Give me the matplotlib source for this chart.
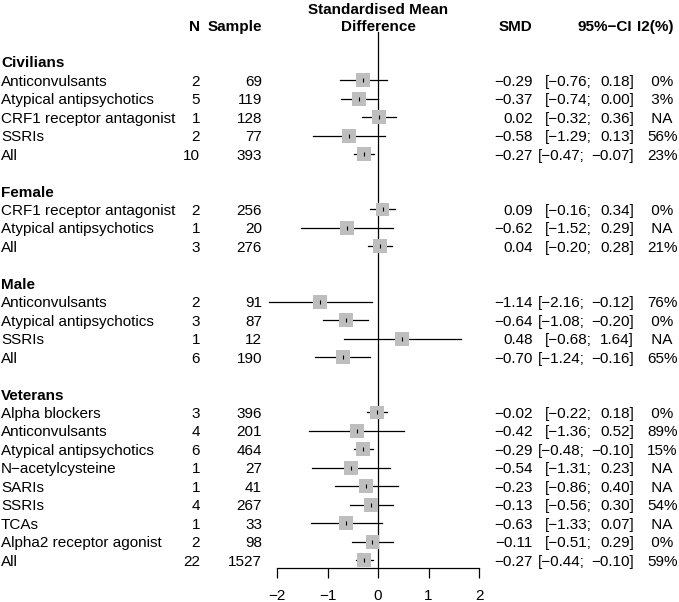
import matplotlib
matplotlib.use("Agg")
import matplotlib.pyplot as plt

# dados do forest plot (por grupo)
groups = ["Civilians", "Female", "Male", "Veterans"]

civ_labels = ["Anticonvulsants", "Atypical antipsychotics", "CRF1 receptor antagonist", "SSRIs", "All"]
civ_n = [2, 5, 1, 2, 10]
civ_sample = [69, 119, 128, 77, 393]
civ_smd = [-0.29, -0.37, 0.02, -0.58, -0.27]
civ_lo = [-0.76, -0.74, -0.32, -1.29, -0.47]
civ_hi = [0.18, 0.00, 0.36, 0.13, -0.07]
civ_i2 = ["0%", "3%", "NA", "56%", "23%"]

fem_labels = ["CRF1 receptor antagonist", "Atypical antipsychotics", "All"]
fem_n = [2, 1, 3]
fem_sample = [256, 20, 276]
fem_smd = [0.09, -0.62, 0.04]
fem_lo = [-0.16, -1.52, -0.20]
fem_hi = [0.34, 0.29, 0.28]
fem_i2 = ["0%", "NA", "21%"]

male_labels = ["Anticonvulsants", "Atypical antipsychotics", "SSRIs", "All"]
male_n = [2, 3, 1, 6]
male_sample = [91, 87, 12, 190]
male_smd = [-1.14, -0.64, 0.48, -0.70]
male_lo = [-2.16, -1.08, -0.68, -1.24]
male_hi = [-0.12, -0.20, 1.64, -0.16]
male_i2 = ["76%", "0%", "NA", "65%"]

vet_labels = ["Alpha blockers", "Anticonvulsants", "Atypical antipsychotics", "N\u2212acetylcysteine",
              "SARIs", "SSRIs", "TCAs", "Alpha2 receptor agonist", "All"]
vet_n = [3, 4, 6, 1, 1, 4, 1, 2, 22]
vet_sample = [396, 201, 464, 27, 41, 267, 33, 98, 1527]
vet_smd = [-0.02, -0.42, -0.29, -0.54, -0.23, -0.13, -0.63, -0.11, -0.27]
vet_lo = [-0.22, -1.36, -0.48, -1.31, -0.86, -0.56, -1.33, -0.51, -0.44]
vet_hi = [0.18, 0.52, -0.10, 0.23, 0.40, 0.30, 0.07, 0.29, -0.10]
vet_i2 = ["0%", "89%", "15%", "NA", "NA", "54%", "NA", "0%", "59%"]

xticks = [-2, -1, 0, 1, 2]

data = [
    (civ_labels, civ_n, civ_sample, civ_smd, civ_lo, civ_hi, civ_i2),
    (fem_labels, fem_n, fem_sample, fem_smd, fem_lo, fem_hi, fem_i2),
    (male_labels, male_n, male_sample, male_smd, male_lo, male_hi, male_i2),
    (vet_labels, vet_n, vet_sample, vet_smd, vet_lo, vet_hi, vet_i2),
]

plt.rcParams['font.family'] = ['Liberation Sans', 'DejaVu Sans']
fs = 11


def fmt(v):
    return f"{v:.2f}".replace("-", "\u2212")


W, H = 679, 602
row_h = 18.45
y0 = 25
ylim = ((H - y0) / row_h, -y0 / row_h)
base = 0.30  # desloca para a linha de base do texto

fig = plt.figure(figsize=(W / 100, H / 100), dpi=100)

# eixo para as colunas de texto (x em pixels)
ax = fig.add_axes([0, 0, 1, 1])
ax.set_xlim(0, W)
ax.set_ylim(*ylim)
ax.axis('off')

# eixo do forest plot
fx = fig.add_axes([277 / W, 0, 202 / W, 1])
fx.set_xlim(-2, 2)
fx.set_ylim(*ylim)
for s in ['top', 'left', 'right']:
    fx.spines[s].set_visible(False)
axis_row = (568.3 - y0) / row_h
fx.spines['bottom'].set_position(('data', axis_row))
fx.spines['bottom'].set_linewidth(0.9)
fx.set_yticks([])
fx.set_xticks(xticks)
fx.set_xticklabels([fmt(t).replace(".00", "") for t in xticks], fontsize=fs)
fx.tick_params(axis='x', direction='out', length=7, width=0.9, pad=8)
fx.patch.set_visible(False)

# cabecalho
ax.text(200, base, "N", ha='right', va='baseline', fontsize=fs, fontweight='bold')
ax.text(262, base, "Sample", ha='right', va='baseline', fontsize=fs, fontweight='bold')
ax.text(378, base - 0.92, "Standardised Mean", ha='center', va='baseline', fontsize=fs, fontweight='bold')
ax.text(378, base, "Difference", ha='center', va='baseline', fontsize=fs, fontweight='bold')
ax.text(532, base, "SMD", ha='right', va='baseline', fontsize=fs, fontweight='bold')
ax.text(632, base, "95%\u2212CI", ha='right', va='baseline', fontsize=fs, fontweight='bold')
ax.text(637, base, "I2(%)", ha='left', va='baseline', fontsize=fs, fontweight='bold')

# linha vertical no zero
fx.plot([0, 0], [(32 - y0) / row_h, axis_row], color='black', lw=0.9, clip_on=False)

r = 2
for g, (labels, n, sample, smd, lo, hi, i2) in zip(groups, data):
    ax.text(1, r + base, g, ha='left', va='baseline', fontsize=fs, fontweight='bold')
    r += 1
    for i in range(len(labels)):
        ax.text(1, r + base, labels[i], ha='left', va='baseline', fontsize=fs)
        ax.text(200, r + base, str(n[i]), ha='right', va='baseline', fontsize=fs)
        ax.text(262, r + base, str(sample[i]), ha='right', va='baseline', fontsize=fs)
        ax.text(532.5, r + base, fmt(smd[i]), ha='right', va='baseline', fontsize=fs)
        xl = 592 if hi[i] >= 0 else 585
        ax.text(xl, r + base, "[" + fmt(lo[i]) + ";", ha='right', va='baseline', fontsize=fs)
        ax.text(634, r + base, fmt(hi[i]) + "]", ha='right', va='baseline', fontsize=fs)
        ax.text(647, r + base, i2[i].rjust(3), ha='left', va='baseline', fontsize=fs)

        # intervalo, quadrado e marca da estimativa
        fx.plot([lo[i], hi[i]], [r, r], color='black', lw=0.9, clip_on=False, zorder=2)
        fx.scatter([smd[i]], [r], marker='s', s=100, color='#BEBEBE', edgecolors='none',
                   zorder=3, clip_on=False)
        fx.plot([smd[i]], [r], marker='|', markersize=3, color='black', mew=0.8,
                zorder=4, clip_on=False)
        r += 1
    r += 1

fig.savefig("out.png", dpi=100)
